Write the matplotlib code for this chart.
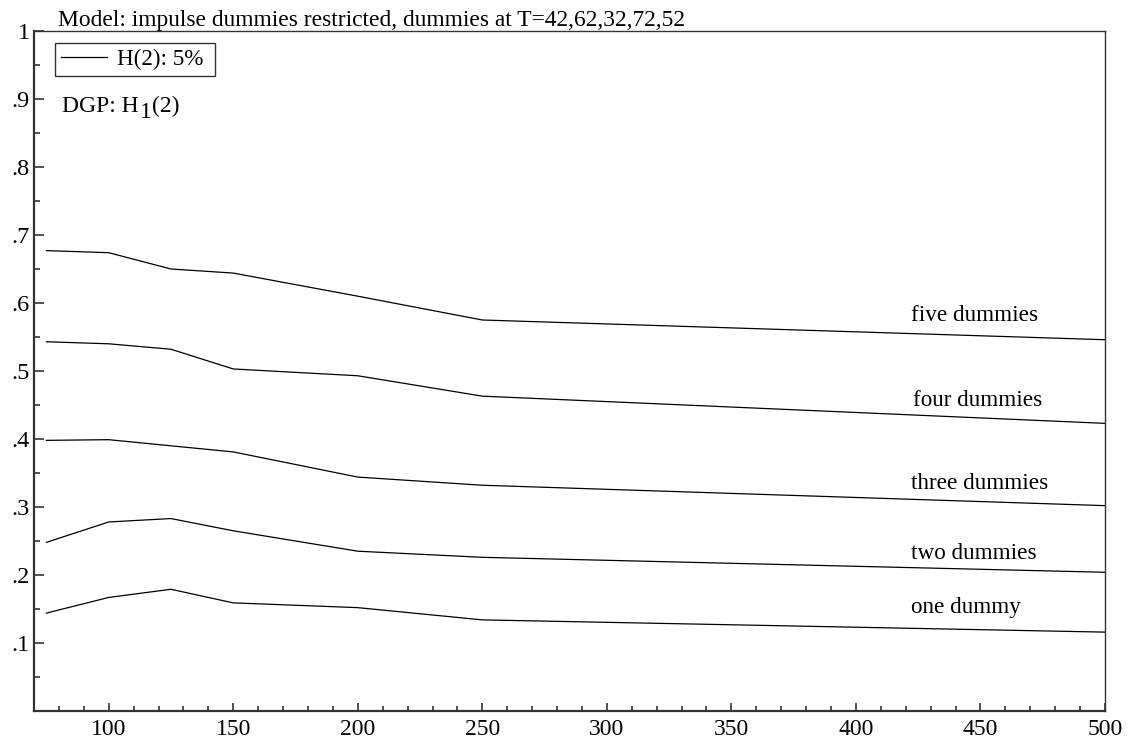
import matplotlib
matplotlib.use("Agg")
import matplotlib.pyplot as plt
from matplotlib.ticker import MultipleLocator, FuncFormatter

plt.rcParams["font.family"] = ["Liberation Serif", "DejaVu Serif"]

# Sample sizes T and rejection frequencies of the H(2) test at 5%
sample_sizes = [75, 100, 125, 150, 200, 250, 500]
one_dummy = [0.144, 0.167, 0.179, 0.159, 0.152, 0.134, 0.116]
two_dummies = [0.248, 0.278, 0.283, 0.265, 0.235, 0.226, 0.204]
three_dummies = [0.398, 0.399, 0.390, 0.381, 0.344, 0.332, 0.302]
four_dummies = [0.543, 0.540, 0.532, 0.503, 0.493, 0.463, 0.423]
five_dummies = [0.677, 0.674, 0.650, 0.644, 0.610, 0.575, 0.546]

series = [five_dummies, four_dummies, three_dummies, two_dummies, one_dummy]
series_labels = ["five dummies", "four dummies", "three dummies", "two dummies", "one dummy"]
label_x = [422, 423, 422, 422, 422]
label_y = [0.574, 0.4485, 0.326, 0.224, 0.1437]

title_text = "Model: impulse dummies restricted, dummies at T=42,62,32,72,52"
legend_text = "H(2): 5%"
dgp_parts = ["DGP: H", "1", "(2)"]

fig = plt.figure(figsize=(11.28, 7.46), dpi=100)
ax = fig.add_axes([34 / 1128, 35 / 746, 1071 / 1128, 680 / 746])

lines = []
for vals in series:
    ln, = ax.plot(sample_sizes, vals, color="black", lw=0.9)
    lines.append(ln)

for name, lx, ly in zip(series_labels, label_x, label_y):
    ax.text(lx, ly, name, fontsize=16.7, va="baseline", ha="left")

ax.set_xlim(70, 500)
ax.set_ylim(0, 1)

ax.xaxis.set_major_locator(MultipleLocator(50))
ax.xaxis.set_minor_locator(MultipleLocator(10))
ax.yaxis.set_major_locator(MultipleLocator(0.1))
ax.yaxis.set_minor_locator(MultipleLocator(0.05))


def fmt_y(v, pos):
    if abs(v) < 1e-9:
        return ""
    if abs(v - 1) < 1e-9:
        return "1"
    return ("%.1f" % v).lstrip("0")


ax.yaxis.set_major_formatter(FuncFormatter(fmt_y))
ax.xaxis.set_major_formatter(FuncFormatter(lambda v, p: "%d" % v if v >= 100 else ""))

ax.tick_params(axis="both", which="both", direction="in", top=False, right=False,
               color="#333333", width=1.2)
ax.tick_params(axis="y", which="major", length=7, pad=3, labelsize=17.5)
ax.tick_params(axis="y", which="minor", length=4.3)
ax.tick_params(axis="x", which="major", length=6, pad=6, labelsize=17)
ax.tick_params(axis="x", which="minor", length=3.4)

for side in ["left", "bottom"]:
    ax.spines[side].set_linewidth(1.6)
    ax.spines[side].set_color("#333333")
for side in ["top", "right"]:
    ax.spines[side].set_linewidth(1.0)
    ax.spines[side].set_color("#333333")

ax.text(0.0224, 1.0074, title_text, transform=ax.transAxes, fontsize=16.9,
        va="baseline", ha="left")

# "DGP: H" followed by a lowered full-size "1" and then "(2)"
t1 = ax.text(0.0265, 0.881, dgp_parts[0], transform=ax.transAxes, fontsize=17,
             va="baseline", ha="left")
t2 = ax.annotate(dgp_parts[1], xy=(1, 0), xycoords=t1, xytext=(0.5, -4.5),
                 textcoords="offset points", fontsize=17, va="bottom", ha="left")
ax.annotate(dgp_parts[2], xy=(1, 0), xycoords=t2, xytext=(0.5, 4.5),
            textcoords="offset points", fontsize=17, va="bottom", ha="left")

leg = ax.legend([lines[0]], [legend_text + " "], loc="upper left",
                bbox_to_anchor=(21 / 1071, 1 - 12 / 680), borderaxespad=0,
                fontsize=16.7, frameon=True, fancybox=False, handlelength=2.0,
                handletextpad=0.4, borderpad=0.26)
leg.get_frame().set_edgecolor("black")
leg.get_frame().set_linewidth(1.0)

fig.savefig("out.png", dpi=100)
